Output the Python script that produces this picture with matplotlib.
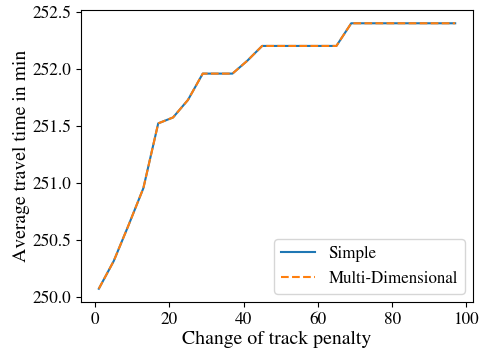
import numpy as np
import matplotlib
matplotlib.use('Agg')
import matplotlib.pyplot as plt

plt.rcParams['font.family'] = ['STIXGeneral', 'DejaVu Serif']
plt.rcParams['mathtext.fontset'] = 'stix'

# track penalty steps
penalty = [1, 5, 9, 13, 17, 21, 25, 29, 33, 37, 41, 45, 49, 53, 57, 61, 65,
           69, 73, 77, 81, 85, 89, 93, 97]
# average travel time (min), both methods give the same result
simple = [250.073, 250.315, 250.630, 250.956, 251.525, 251.577, 251.730,
          251.962, 251.962, 251.962, 252.075, 252.205, 252.205, 252.205,
          252.205, 252.205, 252.205, 252.404, 252.404, 252.404, 252.404,
          252.404, 252.404, 252.404, 252.404]
multi_dim = list(simple)

fig, ax = plt.subplots(figsize=(4.81, 3.51), dpi=100)
fig.subplots_adjust(left=81/481, right=473/481, top=1-10/351, bottom=1-302/351)

ax.plot(penalty, simple, color='tab:blue', label='Simple')
ax.plot(penalty, multi_dim, color='tab:orange', linestyle='--', label='Multi-Dimensional')

ax.set_xlabel('Change of track penalty', fontsize=14.2, labelpad=2)
ax.set_ylabel('Average travel time in min', fontsize=14.2, labelpad=1.5)
ax.tick_params(labelsize=12.4)
ax.legend(loc='lower right', fontsize=12.2)

plt.savefig('out.png', dpi=100)
